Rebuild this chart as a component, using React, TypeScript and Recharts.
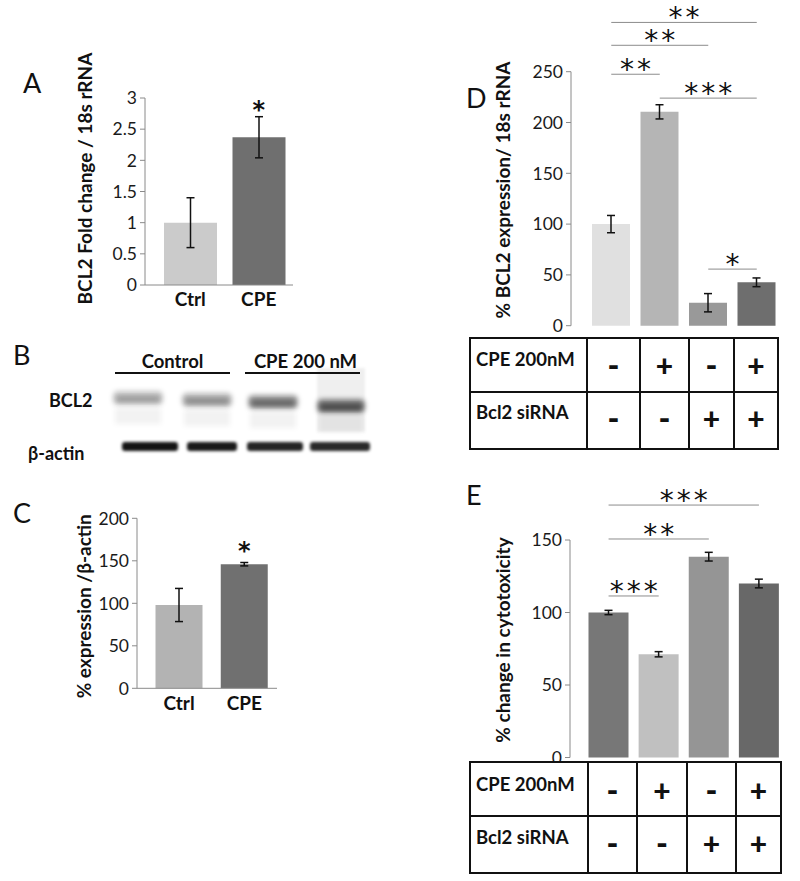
import React from "react";
import {
  BarChart,
  Bar,
  XAxis,
  YAxis,
  ErrorBar,
  Cell,
  ReferenceLine,
  ReferenceDot,
} from "recharts";

const FONT = 'Lato, "Open Sans", "DejaVu Sans", sans-serif';
const STAR_FONT = '"DejaVu Sans", sans-serif';
const AXIS = "#8a8a8a";
const INK = "#111111";
const W = 800;
const H = 881;

// ---- A: BCL2 fold change (qPCR)
const aNames = ["Ctrl", "CPE"];
const aValues = [1.0, 2.37];
const aErrors = [0.4, 0.33];
const aColors = ["#cbcbcb", "#6f6f6f"];
const aTicks = [0, 0.5, 1, 1.5, 2, 2.5, 3];
const aStars = [{ name: "CPE", y: 2.8, text: "*" }];

// ---- B: western blot
const blotGroups = ["Control", "CPE 200 nM"];
const bcl2Density = [0.42, 0.5, 0.72, 0.88];
const actinDensity = [0.92, 0.9, 0.86, 0.84];

// ---- C: densitometry
const cNames = ["Ctrl", "CPE"];
const cValues = [98, 146];
const cErrors = [19.5, 2];
const cColors = ["#b3b3b3", "#707070"];
const cTicks = [0, 50, 100, 150, 200];
const cStars = [{ name: "CPE", y: 161, text: "*" }];

// ---- D / E: shared groups
const groups = ["Ctrl", "CPE", "siRNA", "CPE+siRNA"];
const cpeRow = ["-", "+", "-", "+"];
const sirnaRow = ["-", "-", "+", "+"];

const dValues = [100, 210.5, 22.6, 42.7];
const dErrors = [8.5, 7, 9, 4.3];
const dColors = ["#e0e0e0", "#b5b5b5", "#999999", "#6e6e6e"];
const dTicks = [0, 50, 100, 150, 200, 250];
const dSig = [
  { from: "Ctrl", to: "CPE", y: 247.5, text: "**" },
  { from: "Ctrl", to: "siRNA", y: 276, text: "**" },
  { from: "Ctrl", to: "CPE+siRNA", y: 298.5, text: "**" },
  { from: "CPE", to: "CPE+siRNA", y: 224, text: "***" },
  { from: "siRNA", to: "CPE+siRNA", y: 55.7, text: "*" },
];

const eValues = [100, 71.2, 138.5, 120];
const eErrors = [1.5, 1.8, 3, 3];
const eColors = ["#777777", "#c0c0c0", "#959595", "#686868"];
const eTicks = [0, 50, 100, 150];
const eSig = [
  { from: "Ctrl", to: "CPE", y: 111.4, text: "***" },
  { from: "Ctrl", to: "siRNA", y: 150.7, text: "**" },
  { from: "Ctrl", to: "CPE+siRNA", y: 174.1, text: "***" },
];

const build = (names: string[], values: number[], errors: number[]) =>
  names.map((name, i) => ({ name, value: values[i], err: errors[i] }));

const aData = build(aNames, aValues, aErrors);
const cData = build(cNames, cValues, cErrors);
const dData = build(groups, dValues, dErrors);
const eData = build(groups, eValues, eErrors);

// plot frame in page pixels -> recharts margin
const marginOf = (f: any) => ({
  top: f.top,
  right: W - f.right,
  bottom: H - f.bottom - f.xh,
  left: f.left - f.yw,
});

const yTitle = (text: string, dist: number, shift: number) => (props: any) => {
  const vb = props.viewBox || { x: 0, y: 0, width: 0, height: 0 };
  const x = vb.x + vb.width - dist;
  const y = vb.y + vb.height / 2 + shift;
  return (
    <text
      x={x}
      y={y}
      transform={`rotate(-90 ${x} ${y})`}
      textAnchor="middle"
      dominantBaseline="central"
      fontFamily={FONT}
      fontWeight={700}
      fontSize={19}
      fill={INK}
    >
      {text}
    </text>
  );
};

const starText = (text: string, size: number, weight: number, lift: number, spacing: number) => (props: any) => {
  const vb = props.viewBox || { x: 0, y: 0, width: 0, height: 0 };
  const x = vb.x + (vb.width || 0) / 2 + spacing / 2;
  const y = vb.y + (vb.height || 0) / 2 + lift;
  return (
    <text
      x={x}
      y={y}
      textAnchor="middle"
      fontFamily={STAR_FONT}
      fontWeight={weight}
      fontSize={size}
      letterSpacing={spacing}
      fill={INK}
    >
      {text}
    </text>
  );
};

const tickStyle = { fill: "#1a1a1a", fontSize: 17.5, fontFamily: FONT };
const catStyle = { fill: INK, fontSize: 19, fontFamily: FONT, fontWeight: 700 };

function SmallPanel({ data, colors, ticks, domain, frame, pad, barSize, title, stars }: any) {
  return (
    <BarChart
      width={W}
      height={H}
      data={data}
      margin={marginOf(frame)}
      style={{ position: "absolute", left: 0, top: 0 }}
    >
      <XAxis
        dataKey="name"
        type="category"
        padding={pad}
        height={frame.xh}
        tickLine={false}
        tickSize={6}
        tickMargin={2}
        axisLine={{ stroke: AXIS }}
        tick={catStyle}
      />
      <YAxis
        type="number"
        domain={domain}
        ticks={ticks}
        interval={0}
        width={frame.yw}
        tickSize={5}
        tickMargin={3}
        axisLine={{ stroke: AXIS }}
        tickLine={{ stroke: AXIS }}
        tick={tickStyle}
        label={title}
      />
      <Bar dataKey="value" barSize={barSize} isAnimationActive={false}>
        {data.map((d: any, i: number) => (
          <Cell key={d.name} fill={colors[i]} />
        ))}
        <ErrorBar dataKey="err" width={4} stroke={INK} strokeWidth={1.5} isAnimationActive={false} />
      </Bar>
      {stars.map((s: any) => (
        <ReferenceDot
          key={s.name}
          x={s.name}
          y={s.y}
          r={0}
          fill="none"
          stroke="none"
          ifOverflow="visible"
          label={starText(s.text, 24, 700, 8, 0)}
        />
      ))}
    </BarChart>
  );
}

function GroupPanel({ data, colors, ticks, domain, frame, pad, barSize, title, sig }: any) {
  return (
    <BarChart
      width={W}
      height={H}
      data={data}
      margin={marginOf(frame)}
      style={{ position: "absolute", left: 0, top: 0 }}
    >
      <XAxis
        dataKey="name"
        type="category"
        padding={pad}
        height={frame.xh}
        tick={false}
        tickLine={false}
        axisLine={{ stroke: AXIS }}
      />
      <YAxis
        type="number"
        domain={domain}
        ticks={ticks}
        interval={0}
        width={frame.yw}
        tickSize={5}
        tickMargin={3}
        axisLine={{ stroke: AXIS }}
        tickLine={{ stroke: AXIS }}
        tick={tickStyle}
        label={title}
      />
      <Bar dataKey="value" barSize={barSize} isAnimationActive={false}>
        {data.map((d: any, i: number) => (
          <Cell key={d.name} fill={colors[i]} />
        ))}
        <ErrorBar dataKey="err" width={4} stroke={INK} strokeWidth={1.5} isAnimationActive={false} />
      </Bar>
      {sig.map((s: any, i: number) => (
        <ReferenceLine
          key={i}
          segment={[
            { x: s.from, y: s.y },
            { x: s.to, y: s.y },
          ]}
          stroke="#8c8c8c"
          strokeWidth={1}
          ifOverflow="visible"
          label={starText(s.text, 28, 400, 5, 3)}
        />
      ))}
    </BarChart>
  );
}

function Blot() {
  const bclX = [113, 182, 248, 317];
  const bclW = [50, 50, 50, 48];
  const bclY = [398, 400, 402, 406];
  const actX = [122, 187, 247, 310];
  const actW = [56, 50, 56, 60];
  return (
    <g>
      <defs>
        <filter id="blotBlur" x="-20%" y="-50%" width="140%" height="200%">
          <feGaussianBlur stdDeviation="2.6" />
        </filter>
        <filter id="softBlur" x="-20%" y="-50%" width="140%" height="200%">
          <feGaussianBlur stdDeviation="1.4" />
        </filter>
      </defs>
      <rect x={317} y={368} width={48} height={64} fill="#efefef" filter="url(#softBlur)" />
      {bcl2Density.map((d, i) => (
        <g key={"b" + i}>
          <rect x={bclX[i] + 2} y={bclY[i] + 10} width={bclW[i] - 4} height={16} fill={`rgba(0,0,0,0.05)`} filter="url(#blotBlur)" />
          <rect x={bclX[i]} y={bclY[i] - 7} width={bclW[i]} height={14} rx={5} fill={`rgba(0,0,0,${d * 0.55})`} filter="url(#blotBlur)" />
          <rect x={bclX[i] + 3} y={bclY[i] - 2} width={bclW[i] - 6} height={6} rx={3} fill={`rgba(0,0,0,${d * 0.5})`} filter="url(#blotBlur)" />
        </g>
      ))}
      {actinDensity.map((d, i) => (
        <rect key={"a" + i} x={actX[i]} y={442} width={actW[i]} height={9} rx={3} fill={`rgba(0,0,0,${d})`} filter="url(#softBlur)" />
      ))}
      {blotGroups.map((g, i) => {
        const x0 = i === 0 ? 115 : 245;
        const x1 = i === 0 ? 230 : 360;
        return (
          <g key={g}>
            <text x={(x0 + x1) / 2 + (i === 0 ? 0 : 3)} y={368} textAnchor="middle" fontFamily={FONT} fontWeight={700} fontSize={18.5} fill={INK}>
              {g}
            </text>
            <line x1={x0} x2={x1} y1={373} y2={373} stroke={INK} strokeWidth={2} />
          </g>
        );
      })}
      <text x={49} y={407} fontFamily={FONT} fontWeight={700} fontSize={18} fill={INK}>BCL2</text>
      <text x={28} y={460} fontFamily={FONT} fontWeight={700} fontSize={18} fill={INK}>β-actin</text>
    </g>
  );
}

function ConditionTable({ xs, ys, textY, signY }: any) {
  const rows = [
    { label: "CPE 200nM", marks: cpeRow },
    { label: "Bcl2 siRNA", marks: sirnaRow },
  ];
  return (
    <g>
      <rect x={xs[0]} y={ys[0]} width={xs[xs.length - 1] - xs[0]} height={ys[2] - ys[0]} fill="#fff" stroke={INK} strokeWidth={2} />
      <line x1={xs[0]} x2={xs[xs.length - 1]} y1={ys[1]} y2={ys[1]} stroke={INK} strokeWidth={2} />
      {xs.slice(1, -1).map((x: number) => (
        <line key={x} x1={x} x2={x} y1={ys[0]} y2={ys[2]} stroke={INK} strokeWidth={2} />
      ))}
      {rows.map((r, ri) => (
        <g key={r.label}>
          <text x={xs[0] + 6} y={textY[ri]} fontFamily={FONT} fontWeight={700} fontSize={18.5} fill={INK}>
            {r.label}
          </text>
          {r.marks.map((m, ci) => (
            <text
              key={ci}
              x={(xs[ci + 1] + xs[ci + 2]) / 2}
              y={signY[ri] + 10}
              textAnchor="middle"
              fontFamily={FONT}
              fontWeight={900}
              fontSize={m === "+" ? 30 : 32}
              fill={INK}
            >
              {m}
            </text>
          ))}
        </g>
      ))}
    </g>
  );
}

const letter = (t: string, x: number, y: number) => (
  <text x={x} y={y} fontFamily={FONT} fontSize={27} fill={INK}>
    {t}
  </text>
);

export default function App() {
  return (
    <div style={{ position: "absolute", left: 0, top: 0, width: W, height: H, background: "#fff", overflow: "hidden" }}>
      <SmallPanel
        data={aData}
        colors={aColors}
        ticks={aTicks}
        domain={[0, 3]}
        frame={{ left: 145, right: 293, top: 98, bottom: 285, yw: 60, xh: 30 }}
        pad={{ left: 11, right: 0 }}
        barSize={53}
        title={yTitle("BCL2 Fold change / 18s rRNA", 60.5, -13)}
        stars={aStars}
      />
      <SmallPanel
        data={cData}
        colors={cColors}
        ticks={cTicks}
        domain={[0, 200]}
        frame={{ left: 137, right: 277, top: 518.3, bottom: 688.3, yw: 60, xh: 30 }}
        pad={{ left: 9.5, right: 0 }}
        barSize={47}
        title={yTitle("% expression /β-actin", 53, 3)}
        stars={cStars}
      />
      <GroupPanel
        data={dData}
        colors={dColors}
        ticks={dTicks}
        domain={[0, 250]}
        frame={{ left: 571, right: 781, top: 71.7, bottom: 325.7, yw: 80, xh: 0 }}
        pad={{ left: 16, right: 0 }}
        barSize={38}
        title={yTitle("% BCL2 expression/ 18s rRNA", 69, -8.7)}
        sig={dSig}
      />
      <GroupPanel
        data={eData}
        colors={eColors}
        ticks={eTicks}
        domain={[0, 150]}
        frame={{ left: 570, right: 784, top: 540, bottom: 757.5, yw: 80, xh: 0 }}
        pad={{ left: 13.5, right: 0 }}
        barSize={40}
        title={yTitle("% change in cytotoxicity", 68, -8.75)}
        sig={eSig}
      />
      <svg width={W} height={H} style={{ position: "absolute", left: 0, top: 0, pointerEvents: "none" }}>
        {letter("A", 23, 93)}
        {letter("B", 13, 365)}
        {letter("C", 13, 523)}
        {letter("D", 466, 108)}
        {letter("E", 466, 505)}
        <Blot />
        <ConditionTable xs={[470, 587, 640, 689, 734, 778]} ys={[338, 392, 449]} textY={[366, 419]} signY={[367, 420]} />
        <ConditionTable xs={[470, 588, 637, 687, 736, 781]} ys={[762, 816, 873]} textY={[791, 844]} signY={[792, 845]} />
      </svg>
    </div>
  );
}
